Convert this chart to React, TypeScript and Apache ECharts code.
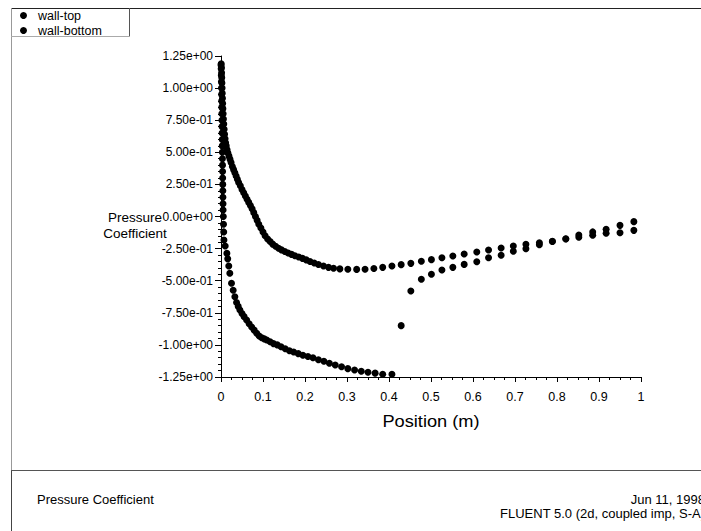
import React, { useEffect, useRef } from "react";
import * as echarts from "echarts";

const seriesNames = ["wall-top", "wall-bottom"];

const topX = [0.0005, 0.001, 0.0014, 0.0018, 0.0022, 0.0026, 0.003, 0.0035, 0.004, 0.0045, 0.0051, 0.0058, 0.0066, 0.0075, 0.0085, 0.0097, 0.011, 0.0125, 0.0145, 0.0165, 0.019, 0.0215, 0.024, 0.027, 0.03, 0.033, 0.036, 0.039, 0.042, 0.046, 0.05, 0.054, 0.058, 0.062, 0.066, 0.07, 0.074, 0.078, 0.082, 0.086, 0.09, 0.095, 0.1, 0.105, 0.111, 0.117, 0.123, 0.13, 0.137, 0.144, 0.152, 0.16, 0.168, 0.176, 0.185, 0.194, 0.203, 0.212, 0.222, 0.232, 0.244, 0.256, 0.268, 0.283, 0.302, 0.323, 0.343, 0.364, 0.385, 0.407, 0.429, 0.452, 0.477, 0.501, 0.526, 0.552, 0.579, 0.609, 0.637, 0.667, 0.696, 0.726, 0.758, 0.789, 0.821, 0.852, 0.885, 0.917, 0.95, 0.983];
const topY = [1.19, 1.16, 1.12, 1.08, 1.04, 1.0, 0.96, 0.92, 0.88, 0.84, 0.8, 0.76, 0.72, 0.68, 0.64, 0.605, 0.575, 0.55, 0.52, 0.495, 0.47, 0.445, 0.42, 0.39, 0.365, 0.34, 0.315, 0.29, 0.265, 0.24, 0.21, 0.185, 0.16, 0.135, 0.11, 0.085, 0.06, 0.03, 0.0, -0.03, -0.06, -0.09, -0.12, -0.15, -0.175, -0.195, -0.215, -0.232, -0.247, -0.26, -0.272, -0.284, -0.295, -0.305, -0.316, -0.326, -0.338, -0.35, -0.362, -0.374, -0.386, -0.396, -0.403, -0.408, -0.411, -0.412, -0.411, -0.405, -0.396, -0.386, -0.375, -0.365, -0.349, -0.336, -0.321, -0.308, -0.292, -0.276, -0.261, -0.245, -0.23, -0.217, -0.204, -0.193, -0.173, -0.144, -0.12, -0.1, -0.069, -0.04];

const bottomX = [0.0, 0.0004, 0.0007, 0.001, 0.0012, 0.0014, 0.0016, 0.0018, 0.002, 0.0022, 0.0024, 0.0026, 0.0028, 0.003, 0.0032, 0.0034, 0.0036, 0.0038, 0.004, 0.0042, 0.0044, 0.0046, 0.0048, 0.005, 0.0055, 0.006, 0.0065, 0.007, 0.01, 0.014, 0.016, 0.0185, 0.021, 0.025, 0.029, 0.033, 0.037, 0.041, 0.045, 0.05, 0.055, 0.061, 0.067, 0.073, 0.079, 0.085, 0.091, 0.097, 0.103, 0.109, 0.117, 0.125, 0.134, 0.143, 0.153, 0.163, 0.173, 0.184, 0.195, 0.207, 0.219, 0.232, 0.245, 0.258, 0.272, 0.287, 0.302, 0.318, 0.334, 0.35, 0.367, 0.385, 0.407, 0.429, 0.452, 0.477, 0.501, 0.526, 0.552, 0.579, 0.609, 0.637, 0.667, 0.696, 0.726, 0.758, 0.789, 0.821, 0.852, 0.885, 0.917, 0.95, 0.983];
const bottomY = [1.18, 1.15, 1.1, 1.05, 1.0, 0.95, 0.9, 0.85, 0.8, 0.75, 0.7, 0.65, 0.6, 0.55, 0.5, 0.45, 0.4, 0.35, 0.3, 0.25, 0.2, 0.15, 0.1, 0.05, 0.0, -0.06, -0.12, -0.183, -0.23, -0.287, -0.33, -0.385, -0.442, -0.52, -0.575, -0.625, -0.67, -0.7, -0.728, -0.755, -0.78, -0.806, -0.835, -0.86, -0.885, -0.91, -0.93, -0.945, -0.953, -0.962, -0.975, -0.99, -1.0, -1.015, -1.03, -1.045, -1.055, -1.068, -1.08, -1.09, -1.1, -1.115, -1.128, -1.143, -1.157, -1.17, -1.185, -1.195, -1.205, -1.213, -1.22, -1.229, -1.229, -0.85, -0.58, -0.489, -0.45, -0.417, -0.396, -0.373, -0.352, -0.321, -0.302, -0.271, -0.251, -0.22, -0.195, -0.175, -0.162, -0.146, -0.131, -0.126, -0.108];

const xTitle = "Position (m)";
const yTitle = "Pressure\nCoefficient";
const footerLeft = "Pressure Coefficient";
const footerDate = "Jun 11, 1998";
const footerSolver = "FLUENT 5.0 (2d, coupled imp, S-A)";

const FONT = "'Liberation Sans', Arial, sans-serif";

function fmtExp(v: number): string {
  if (Math.abs(v) < 1e-9) return "0.00e+00";
  let e = Math.floor(Math.log10(Math.abs(v)) + 1e-12);
  let ms = (v / Math.pow(10, e)).toFixed(2);
  if (Math.abs(parseFloat(ms)) >= 10) {
    e += 1;
    ms = (v / Math.pow(10, e)).toFixed(2);
  }
  return ms + "e" + (e < 0 ? "-" : "+") + String(Math.abs(e)).padStart(2, "0");
}

function zip(xs: number[], ys: number[]) {
  return xs.map((x, i) => [x, ys[i]]);
}

export default function App() {
  const ref = useRef<HTMLDivElement>(null);
  useEffect(() => {
    document.body.style.margin = "0";
    const chart = echarts.init(ref.current!, null, { renderer: "svg" });
    const axisCommon = {
      axisLine: { show: true, onZero: false, lineStyle: { color: "#000", width: 1 } },
      axisTick: { show: true, length: 5, lineStyle: { color: "#000" } },
      minorTick: { show: true, length: 3, lineStyle: { color: "#000" } },
      splitLine: { show: false },
      minorSplitLine: { show: false },
    };
    chart.setOption({
      animation: false,
      backgroundColor: "#fff",
      textStyle: { fontFamily: FONT },
      grid: { left: 221, top: 56, width: 420, height: 321, containLabel: false },
      legend: {
        data: seriesNames,
        orient: "vertical",
        left: 20,
        top: 9,
        padding: 0,
        itemWidth: 7,
        itemHeight: 7,
        itemGap: 2,
        icon: "circle",
        itemStyle: { color: "#000", opacity: 1 },
        textStyle: { fontSize: 12.5, color: "#000", fontFamily: FONT, padding: [0, 0, 0, 6] },
      },
      xAxis: {
        type: "value",
        min: 0,
        max: 1,
        interval: 0.1,
        ...axisCommon,
        minorTick: { ...axisCommon.minorTick, splitNumber: 4 },
        axisLabel: { color: "#000", fontSize: 12.5, margin: 13, fontFamily: FONT },
      },
      yAxis: {
        type: "value",
        min: -1.25,
        max: 1.25,
        interval: 0.25,
        ...axisCommon,
        axisTick: { ...axisCommon.axisTick, length: 6 },
        minorTick: { ...axisCommon.minorTick, splitNumber: 5 },
        axisLabel: { color: "#000", fontSize: 12, margin: 8, fontFamily: FONT, formatter: (v: number) => fmtExp(v) },
      },
      series: [
        { name: seriesNames[0], type: "scatter", data: zip(topX, topY), symbol: "circle", symbolSize: 7, itemStyle: { color: "#000", opacity: 1 } },
        { name: seriesNames[1], type: "scatter", data: zip(bottomX, bottomY), symbol: "circle", symbolSize: 7, itemStyle: { color: "#000", opacity: 1 } },
      ],
      graphic: [
        { type: "line", shape: { x1: 11, y1: 8.5, x2: 701, y2: 8.5 }, style: { stroke: "#222", lineWidth: 1 } },
        { type: "line", shape: { x1: 11.5, y1: 8, x2: 11.5, y2: 470 }, style: { stroke: "#999", lineWidth: 1 } },
        { type: "line", shape: { x1: 11.5, y1: 470, x2: 11.5, y2: 531 }, style: { stroke: "#444", lineWidth: 1 } },
        { type: "line", shape: { x1: 11, y1: 470.5, x2: 701, y2: 470.5 }, style: { stroke: "#555", lineWidth: 1 } },
        { type: "line", shape: { x1: 129.5, y1: 8, x2: 129.5, y2: 37 }, style: { stroke: "#555", lineWidth: 1 } },
        { type: "line", shape: { x1: 11, y1: 36.5, x2: 130, y2: 36.5 }, style: { stroke: "#aaa", lineWidth: 1 } },
        { type: "text", x: 135, y: 225, style: { text: yTitle, font: `13.5px ${FONT}`, fill: "#000", textAlign: "center", textVerticalAlign: "middle", lineHeight: 16 } },
        { type: "text", x: 431, y: 421, scaleX: 1.14, style: { text: xTitle, font: `16px ${FONT}`, fill: "#000", textAlign: "center", textVerticalAlign: "middle" } },
        { type: "text", x: 37, y: 499, style: { text: footerLeft, font: `13px ${FONT}`, fill: "#000", textAlign: "left", textVerticalAlign: "middle" } },
        { type: "text", x: 705, y: 499, style: { text: footerDate, font: `13px ${FONT}`, fill: "#000", textAlign: "right", textVerticalAlign: "middle" } },
        { type: "text", x: 705, y: 513, style: { text: footerSolver, font: `13px ${FONT}`, fill: "#000", textAlign: "right", textVerticalAlign: "middle" } },
      ],
    });
    return () => chart.dispose();
  }, []);
  return <div ref={ref} style={{ width: 701, height: 531 }} />;
}
